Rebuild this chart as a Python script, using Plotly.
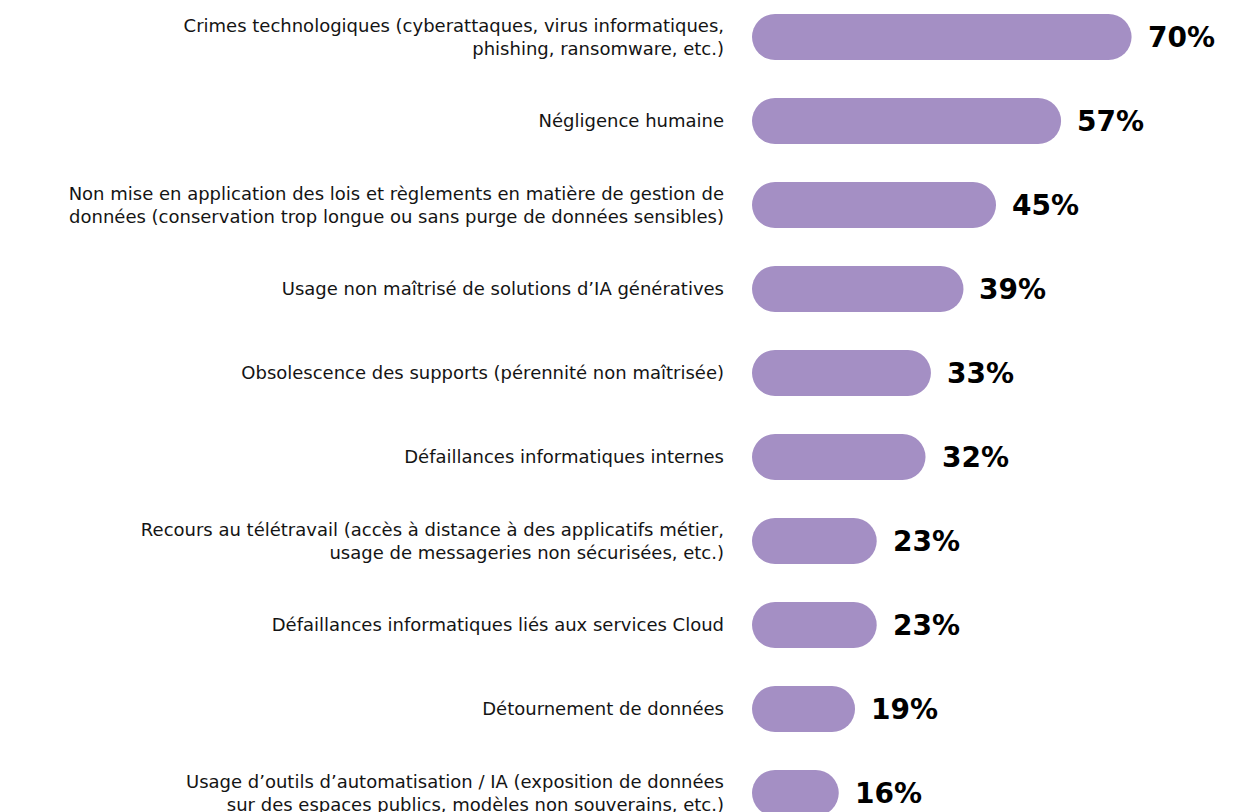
import plotly.graph_objects as go

categories = [
    "Crimes technologiques (cyberattaques, virus informatiques,<br>phishing, ransomware, etc.)",
    "Négligence humaine",
    "Non mise en application des lois et règlements en matière de gestion de<br>données (conservation trop longue ou sans purge de données sensibles)",
    "Usage non maîtrisé de solutions d’IA génératives",
    "Obsolescence des supports (pérennité non maîtrisée)",
    "Défaillances informatiques internes",
    "Recours au télétravail (accès à distance à des applicatifs métier,<br>usage de messageries non sécurisées, etc.)",
    "Défaillances informatiques liés aux services Cloud",
    "Détournement de données",
    "Usage d’outils d’automatisation / IA (exposition de données<br>sur des espaces publics, modèles non souverains, etc.)",
]
values = [70, 57, 45, 39, 33, 32, 23, 23, 19, 16]
value_labels = [f"{v}%" for v in values]

# page body has an 8px margin, so the figure is drawn 8px in from the window edge
OFF = 8
W, H = 1259 - OFF, 812 - OFF
ML = 752 - OFF
BAR_PX = 46
STEP_PX = 84
COLOR = "#A48FC4"

XMAX = 93.5

fig = go.Figure()
fig.add_trace(go.Bar(
    y=categories, x=values, base=[0] * len(values),
    orientation="h", marker=dict(color=COLOR, cornerradius="50%", line=dict(width=0)),
    width=BAR_PX / STEP_PX, hoverinfo="skip",
))

for c, v, t in zip(categories, values, value_labels):
    fig.add_annotation(x=v, y=c, text=f"<b>{t}</b>", showarrow=False,
                       xanchor="left", yanchor="middle", xshift=14,
                       font=dict(family="DejaVu Sans", size=28, color="#000000"))

top_center = 37 - OFF
n = len(categories)
y_top = -top_center / STEP_PX
y_bot = (n - 1) + (H - (top_center + STEP_PX * (n - 1))) / STEP_PX

fig.update_layout(
    template="none",
    width=W, height=H,
    margin=dict(l=ML, r=0, t=0, b=0, pad=0, autoexpand=False),
    paper_bgcolor="white", plot_bgcolor="white",
    showlegend=False, barmode="overlay",
    font=dict(family="DejaVu Sans", size=18, color="#141414"),
    xaxis=dict(range=[0, XMAX], visible=False, fixedrange=True, automargin=False),
    yaxis=dict(
        type="category", categoryorder="array", categoryarray=categories,
        range=[y_bot, y_top], showgrid=False, zeroline=False, showline=False,
        ticks="", ticklabelstandoff=27, automargin=False,
        tickfont=dict(family="DejaVu Sans", size=18, color="#141414"),
    ),
)

fig.write_html("out.html")
